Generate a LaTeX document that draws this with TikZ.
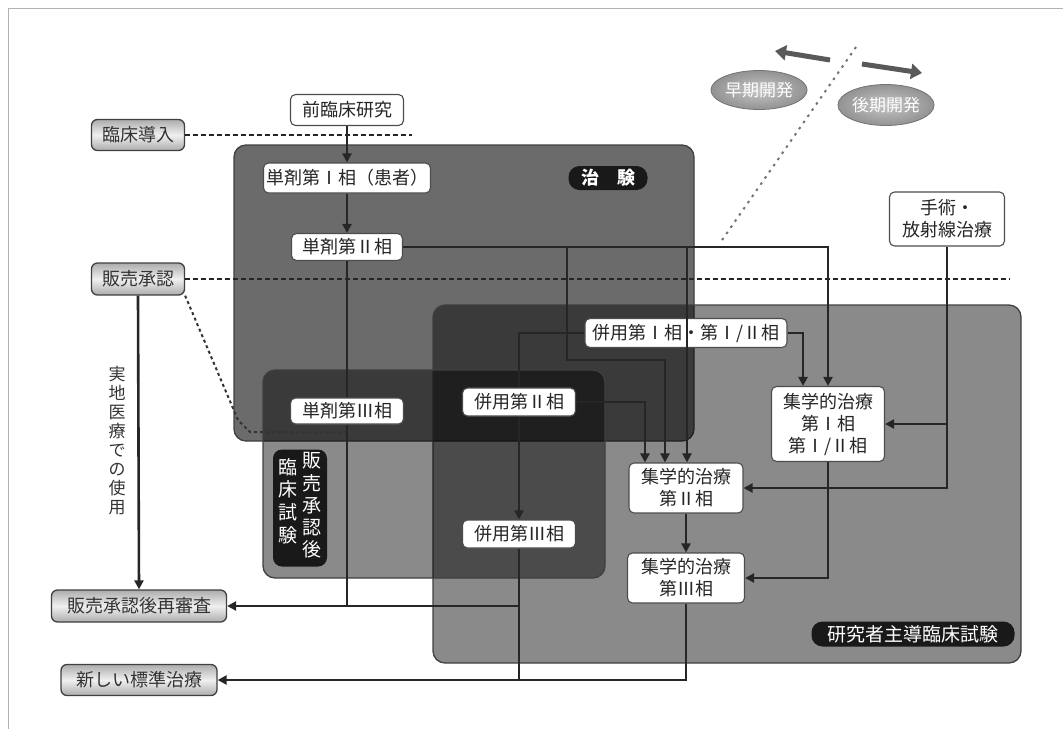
\documentclass[tikz,border=0pt]{standalone}
\usepackage{fontspec}
\setmainfont{Noto Sans CJK JP}
\usetikzlibrary{arrows.meta,shapes.geometric,calc}
\begin{document}
\begin{tikzpicture}[x=1pt,y=-1pt,
  wbox/.style={draw=black!70, line width=1.1pt, fill=white, rounded corners=5pt, inner sep=1pt,
    font=\fontsize{18}{22}\selectfont, align=center, text=black!85},
  gbox/.style={draw=black!75, line width=1.3pt, rounded corners=6pt, inner sep=1pt,
    top color=gray!65, bottom color=gray!65, middle color=gray!12,
    font=\fontsize{18}{22}\selectfont, text=black!80},
  ell/.style={ellipse, draw=black!55, line width=0.8pt, inner sep=0pt, inner color=gray!45, outer color=gray!85,
    text=white, font=\fontsize{17}{20}\selectfont},
  pill/.style={fill=black!90, rounded corners=11pt, inner sep=1pt, text=white},
  conn/.style={line width=2.6pt, draw=black!85},
  arr/.style={conn, -{Triangle[length=9pt,width=9pt]}},
  bigarrow/.style={line width=5pt, draw=black!65, -{Triangle[length=11pt,width=15pt]}},
  region/.style={fill=black, draw=black!75, line width=1.3pt, rounded corners=12pt},
  dashln/.style={draw=black!85, line width=1.8pt, dash pattern=on 5pt off 3pt},
  dotln/.style={draw=black!80, line width=2pt, dash pattern=on 3pt off 3pt},
  diagln/.style={draw=black!55, line width=2pt, dash pattern=on 2.5pt off 5pt}
]
\useasboundingbox (0,0) rectangle (1063,729);
% outer frame
\draw[gray!60, line width=1pt] (8,729) -- (8,8) -- (1063,8);

% regions (semi-transparent)
\path[region, fill opacity=0.58] (234,145) rectangle (694,441);
\path[region, fill opacity=0.46] (433,305) rectangle (1021,663);
\path[region, fill opacity=0.46] (263,370) rectangle (605,578);

% labels in regions
\node[pill, minimum width=79pt, minimum height=24pt, font=\fontsize{18}{20}\selectfont\bfseries] (chiken) at (608,178) {治　験};
\node[pill, minimum width=203pt, minimum height=25pt, font=\fontsize{19}{20}\selectfont] (kenkyu) at (913,634) {研究者主導臨床試験};
\node[pill, rounded corners=9pt, minimum width=54pt, minimum height=117pt, inner sep=0pt,
  font=\fontsize{19}{22}\selectfont] (hanbaigo) at (300,508)
  {\setlength{\tabcolsep}{0pt}\begin{tabular}[t]{c}\\[-16pt]臨\\床\\試\\験\end{tabular}\hspace{5pt}\begin{tabular}[t]{c}販\\売\\承\\認\\後\end{tabular}};

% ellipses and arrows top right
\coordinate (e1) at (830,60); \coordinate (e2) at (775,51);
\coordinate (l1) at (862,64); \coordinate (l2) at (922,73);
\draw[bigarrow] (e1) -- (e2);
\draw[bigarrow] (l1) -- (l2);
\coordinate (d1) at (856,47); \coordinate (d2) at (720,243);
\draw[diagln] (d1) -- (d2);
\node[ell, minimum width=96pt, minimum height=39pt] (early) at (759,90) {早期開発};
\node[ell, minimum width=94pt, minimum height=41pt] (late) at (886,105) {後期開発};

% left gray labels
\node[gbox, minimum width=93pt, minimum height=31pt] (intro) at (138,135) {臨床導入};
\node[gbox, minimum width=93pt, minimum height=32pt] (appr) at (138,279) {販売承認};
\node[gbox, minimum width=175pt, minimum height=32pt] (rev) at (139,606) {販売承認後再審査};
\node[gbox, minimum width=156pt, minimum height=31pt] (std) at (139,680) {新しい標準治療};
\node[font=\fontsize{17}{19}\selectfont, align=center, text=black!80] (jitchi) at (117,441)
  {実\\地\\医\\療\\で\\の\\使\\用};

% dashed / dotted guide lines
\coordinate (g1) at (412,135);
\draw[dashln] (intro.east) -- (g1);
\coordinate (g2) at (1010,279);
\draw[dashln] (appr.east) -- (g2);
\coordinate (g3) at (238,420); \coordinate (g4) at (250,432); \coordinate (g5) at (347,432);
\draw[dotln] (appr.south east) -- (g3) -- (g4) -- (g5);

% white boxes
\node[wbox, minimum width=113pt, minimum height=31pt] (pre) at (347,110) {前臨床研究};
\node[wbox, minimum width=167pt, minimum height=30pt] (s1) at (347,178) {単剤第Ⅰ相（患者）};
\node[wbox, minimum width=111pt, minimum height=27pt] (s2) at (347,247) {単剤第Ⅱ相};
\node[wbox, minimum width=113pt, minimum height=26pt] (s3) at (347,411) {単剤第Ⅲ相};
\node[wbox, minimum width=202pt, minimum height=29pt] (c12) at (686,333) {併用第Ⅰ相・第Ⅰ/Ⅱ相};
\node[wbox, minimum width=113pt, minimum height=28pt] (c2) at (519,402) {併用第Ⅱ相};
\node[wbox, minimum width=113pt, minimum height=28pt] (c3) at (519,534) {併用第Ⅲ相};
\node[wbox, minimum width=113pt, minimum height=75pt] (m1) at (828,424) {集学的治療\\第Ⅰ相\\第Ⅰ/Ⅱ相};
\node[wbox, minimum width=114pt, minimum height=50pt] (m2) at (686,488) {集学的治療\\第Ⅱ相};
\node[wbox, minimum width=117pt, minimum height=50pt] (m3) at (686,578) {集学的治療\\第Ⅲ相};
\node[wbox, minimum width=115pt, minimum height=54pt] (surg) at (947,219) {手術・\\放射線治療};

% connectors
\draw[arr] (pre) -- (s1);
\draw[arr] (s1) -- (s2);
\draw[conn] (s2) -- (s3);
\draw[arr] (s2.east) -| (m1.north);
\coordinate (b1) at (567,247); \coordinate (b2) at (665,360);
\draw[arr] (b1) |- (b2) -- (b2 |- m2.north);
\coordinate (b3) at (687,247);
\draw[arr] (b3) -- (b3 |- m2.north);
\coordinate (b4) at (645,402);
\draw[arr] (c2.east) -- (b4) -- (b4 |- m2.north);
\coordinate (b5) at (803,333);
\draw[arr] (c12.east) -- (b5) -- (b5 |- m1.north);
\coordinate (b6) at (519,333);
\draw[conn] (c12.west) -- (b6) -- (c2.north);
\draw[arr] (c2) -- (c3);
\coordinate (b7) at (947,488); \coordinate (b8) at (947,424);
\draw[arr] (surg.south) -- (b7) -- (m2.east);
\draw[arr] (b8) -- (m1.east);
\draw[arr] (m2) -- (m3);
\coordinate (b9) at (828,578);
\draw[arr] (m1.south) -- (b9) -- (m3.east);
\coordinate (b10) at (347,606);
\draw[conn] (s3.south) -- (b10);
\coordinate (b11) at (519,606); \coordinate (b12) at (519,680);
\draw[conn] (c3.south) -- (b12);
\draw[arr] (b11) -- (rev.east);
\coordinate (b13) at (686,680);
\draw[arr] (m3.south) -- (b13) -- (std.east);
\draw[arr] (appr.south) -- (rev.north);
\end{tikzpicture}
\end{document}
